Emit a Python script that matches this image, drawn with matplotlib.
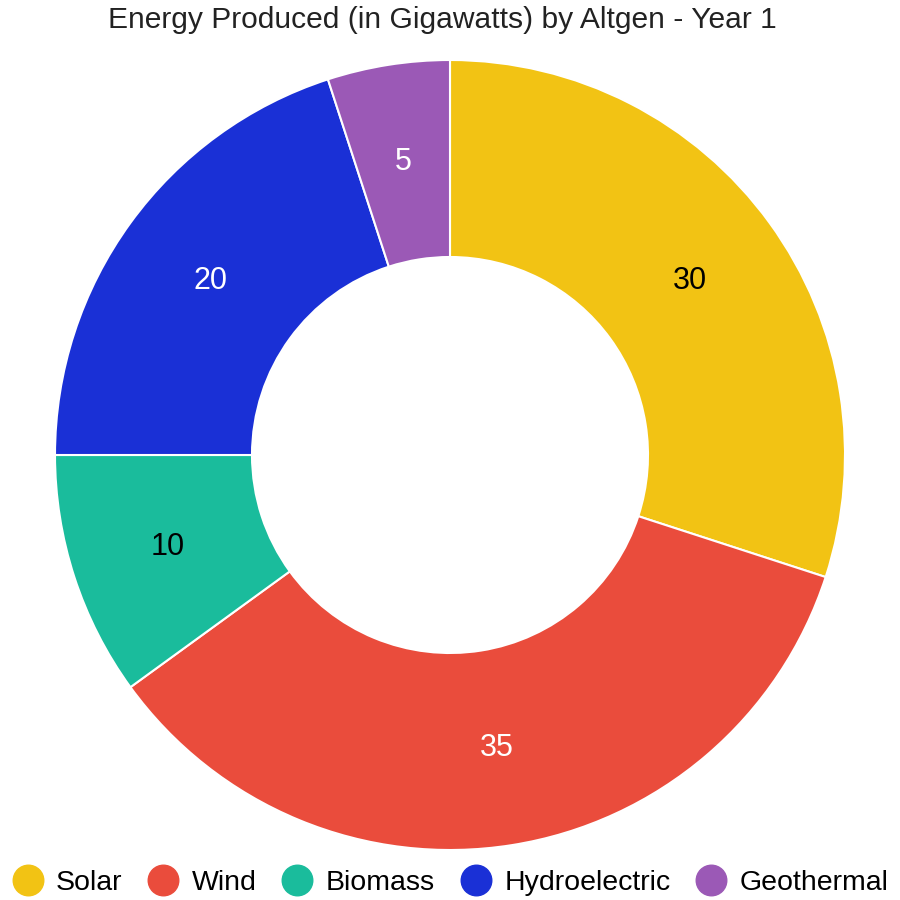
import numpy as np
import matplotlib.pyplot as plt
from matplotlib.lines import Line2D

plt.rcParams['font.family'] = ['Liberation Sans', 'DejaVu Sans']

sources = ['Solar', 'Wind', 'Biomass', 'Hydroelectric', 'Geothermal']
energy = [30, 35, 10, 20, 5]
colors = ['#F2C314', '#EA4C3C', '#1ABC9C', '#1A30D6', '#9B59B6']
label_colors = ['black', 'white', 'black', 'white', 'white']

fig = plt.figure(figsize=(9, 9), dpi=100)
ax = fig.add_axes([0, 0, 1, 1])

cx, cy = 450, 445
r_out, ring = 395, 197
wedges, _ = ax.pie(energy, colors=colors, startangle=90, counterclock=False,
                   radius=r_out, center=(cx, cy),
                   wedgeprops=dict(width=ring, edgecolor='white', linewidth=1.5))
ax.set_xlim(0, 900)
ax.set_ylim(0, 900)
ax.set_aspect('equal')
ax.axis('off')

r_lab = r_out - ring / 2
for w, val, lc in zip(wedges, energy, label_colors):
    ang = np.deg2rad((w.theta1 + w.theta2) / 2)
    ax.text(cx + r_lab * np.cos(ang), cy + r_lab * np.sin(ang), str(val),
            ha='center', va='center', fontsize=22, color=lc)

fig.text(0.492, 0.978, 'Energy Produced (in Gigawatts) by Altgen - Year 1',
         ha='center', va='center', fontsize=21.6, color='#222222')

handles = [Line2D([], [], marker='o', linestyle='', markersize=22,
                  markerfacecolor=c, markeredgecolor=c) for c in colors]
fig.legend(handles, sources, loc='center', bbox_to_anchor=(0.497, 0.019),
           ncol=5, frameon=False, fontsize=20.5, handletextpad=0.25,
           columnspacing=0.68, handlelength=1.5)

fig.savefig('out.png', dpi=100)
